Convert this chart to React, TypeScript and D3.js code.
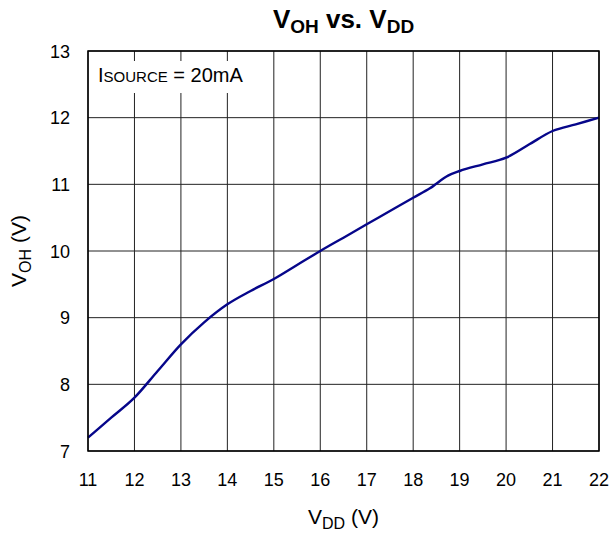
import React from "react";
import * as d3 from "d3";

const vdd = [11, 11.5, 12, 12.5, 13, 13.5, 14, 14.5, 15, 15.5, 16, 16.5, 17, 17.5, 18, 18.36, 18.75, 19, 19.5, 20, 20.5, 21, 21.5, 22];
const voh = [7.2, 7.5, 7.8, 8.2, 8.6, 8.93, 9.2, 9.4, 9.58, 9.79, 10.0, 10.2, 10.4, 10.6, 10.8, 10.94, 11.13, 11.2, 11.3, 11.4, 11.6, 11.8, 11.9, 12.0];
const xTicks = [11, 12, 13, 14, 15, 16, 17, 18, 19, 20, 21, 22];
const yTicks = [7, 8, 9, 10, 11, 12, 13];

const W = 612, H = 536;
const L = 88, R = 599, T = 51, B = 451;
const FONT = "Liberation Sans, Arial, sans-serif";

export default function App() {
  const x = d3.scaleLinear().domain([11, 22]).range([L, R]);
  const y = d3.scaleLinear().domain([7, 13]).range([B, T]);
  const pts: [number, number][] = vdd.map((v, i) => [v, voh[i]]);
  const line = d3.line<[number, number]>().x(d => x(d[0])).y(d => y(d[1])).curve(d3.curveMonotoneX);
  return (
    <svg width={W} height={H} style={{ position: "absolute", left: 0, top: 0 }} fontFamily={FONT}>
      <rect width={W} height={H} fill="#fff" />
      {xTicks.map(t => (
        <line key={"gx" + t} x1={x(t)} x2={x(t)} y1={T} y2={B} stroke="#222" strokeWidth={1} />
      ))}
      {yTicks.map(t => (
        <line key={"gy" + t} x1={L} x2={R} y1={y(t)} y2={y(t)} stroke="#222" strokeWidth={1} />
      ))}
      <rect x={L + 1} y={61} width={163} height={32} fill="#fff" />
      <text x={98} y={82} fontSize={20} fill="#000">
        <tspan>I</tspan>
        <tspan fontSize={15}>SOURCE</tspan>
        <tspan> = 20mA</tspan>
      </text>
      <path d={line(pts) || ""} fill="none" stroke="#06068a" strokeWidth={2.4} />
      <rect x={L} y={T} width={R - L} height={B - T} fill="none" stroke="#000" strokeWidth={1.5} />
      {xTicks.map(t => (
        <text key={"tx" + t} x={x(t)} y={486} fontSize={18} textAnchor="middle" fill="#000">{t}</text>
      ))}
      {yTicks.map(t => (
        <text key={"ty" + t} x={70} y={y(t) + 6.5} fontSize={18} textAnchor="end" fill="#000">{t}</text>
      ))}
      <text x={(L + R) / 2} y={28} fontSize={26} fontWeight="bold" textAnchor="middle" fill="#000">
        <tspan>V</tspan>
        <tspan fontSize={19} dy={5}>OH</tspan>
        <tspan dy={-5}> vs. V</tspan>
        <tspan fontSize={19} dy={5}>DD</tspan>
      </text>
      <text x={(L + R) / 2} y={524} fontSize={21} textAnchor="middle" fill="#000">
        <tspan>V</tspan>
        <tspan fontSize={16} dy={5}>DD</tspan>
        <tspan dy={-5}> (V)</tspan>
      </text>
      <text transform={`translate(26, ${(T + B) / 2}) rotate(-90)`} fontSize={21} textAnchor="middle" fill="#000">
        <tspan>V</tspan>
        <tspan fontSize={16} dy={5}>OH</tspan>
        <tspan dy={-5}> (V)</tspan>
      </text>
    </svg>
  );
}
